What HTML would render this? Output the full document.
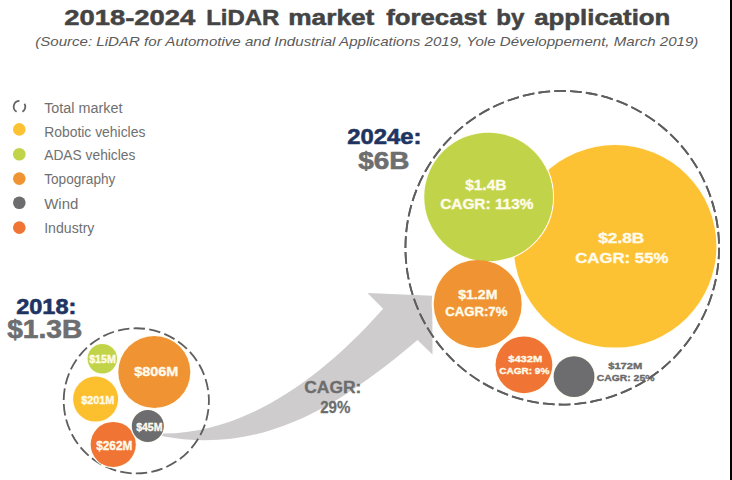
<!DOCTYPE html>
<html><head><meta charset="utf-8">
<style>
html,body{margin:0;padding:0;background:#fff;width:732px;height:480px;overflow:hidden}
svg{display:block}
text{font-family:"Liberation Sans",sans-serif}
</style></head>
<body>
<svg width="732" height="480" viewBox="0 0 732 480">
<rect x="0" y="0" width="732" height="480" fill="#fff"/>
<path d="M16.6,111.72 A5.8,5.8 0 0 1 19.5,100.9 M24.52,103.8 A5.8,5.8 0 0 1 22.4,111.72" fill="none" stroke="#666" stroke-width="1.8"/>
<circle cx="19.3" cy="129.4" r="6.3" fill="#fdc234"/>
<circle cx="19.3" cy="154.3" r="6.3" fill="#c1d449"/>
<circle cx="19.3" cy="178.6" r="6.3" fill="#f09433"/>
<circle cx="19.3" cy="202.7" r="6.3" fill="#6d6c6e"/>
<circle cx="19.3" cy="227.6" r="6.3" fill="#f07434"/>
<path id="arrow" fill="#cecccd" d="M161,433.5 C232.2,434.7 309.2,392.4 383.1,308.75 L367.5,293.1 L432.3,295.8 L432.5,354.4 L417.5,340 C328.5,415.8 255.3,453.3 161,436 Z"/>
<circle cx="136.3" cy="400.85" r="72.6" fill="none" stroke="#5e5e5e" stroke-width="1.8" stroke-dasharray="11.500 4.230" stroke-dashoffset="7.260"/>
<circle cx="154.3" cy="372.05" r="36.60" fill="none" stroke="#fffdf2" stroke-width="1.2"/><circle cx="154.3" cy="372.05" r="36" fill="#f09433"/>
<circle cx="102.3" cy="358.75" r="15.30" fill="none" stroke="#fffdf2" stroke-width="1.2"/><circle cx="102.3" cy="358.75" r="14.7" fill="#c1d449"/>
<circle cx="95.6" cy="399.1" r="23.10" fill="none" stroke="#fffdf2" stroke-width="1.2"/><circle cx="95.6" cy="399.1" r="22.5" fill="#fcbf2e"/>
<circle cx="113.25" cy="444.45" r="23.15" fill="none" stroke="#fffdf2" stroke-width="1.2"/><circle cx="113.25" cy="444.45" r="22.55" fill="#f07434"/>
<circle cx="147.8" cy="425.95" r="16.60" fill="none" stroke="#fffdf2" stroke-width="1.2"/><circle cx="147.8" cy="425.95" r="16" fill="#6d6c6e"/>
<circle cx="562.25" cy="247.75" r="156.8" fill="none" stroke="#5e5e5e" stroke-width="1.8" stroke-dasharray="11.700 4.190" stroke-dashoffset="0.340"/>
<circle cx="477.7" cy="303.9" r="45" fill="none" stroke="#fffdf6" stroke-width="2"/>
<circle cx="615.1" cy="246.3" r="101.90" fill="none" stroke="#fffdf2" stroke-width="1.2"/><circle cx="615.1" cy="246.3" r="101.3" fill="#fdc234"/>
<circle cx="488.55" cy="197" r="64.90" fill="none" stroke="#fffdf2" stroke-width="1.2"/><circle cx="488.55" cy="197" r="64.3" fill="#c1d449"/>
<circle cx="477.7" cy="303.9" r="44" fill="#f09433"/>
<circle cx="523.95" cy="364.8" r="29.00" fill="none" stroke="#fffdf2" stroke-width="1.2"/><circle cx="523.95" cy="364.8" r="28.4" fill="#f07434"/>
<circle cx="574.05" cy="376.65" r="21.00" fill="none" stroke="#fffdf2" stroke-width="1.2"/><circle cx="574.05" cy="376.65" r="20.4" fill="#6d6c6e"/>
<text id="t_a" x="64.20" y="24.8" font-size="22.2" font-weight="bold" font-style="normal" fill="#444" stroke="#444" stroke-width="0.5" stroke-linejoin="round" textLength="131.20" lengthAdjust="spacingAndGlyphs">2018-2024</text>
<text id="t_b" x="206.20" y="24.8" font-size="22.2" font-weight="bold" font-style="normal" fill="#444" stroke="#444" stroke-width="0.5" stroke-linejoin="round" textLength="73.20" lengthAdjust="spacingAndGlyphs">LiDAR</text>
<text id="t_c" x="288.20" y="24.8" font-size="22.2" font-weight="bold" font-style="normal" fill="#444" stroke="#444" stroke-width="0.5" stroke-linejoin="round" textLength="86.20" lengthAdjust="spacingAndGlyphs">market</text>
<text id="t_d" x="386.20" y="24.8" font-size="22.2" font-weight="bold" font-style="normal" fill="#444" stroke="#444" stroke-width="0.5" stroke-linejoin="round" textLength="100.20" lengthAdjust="spacingAndGlyphs">forecast</text>
<text id="t_e" x="496.20" y="24.8" font-size="22.2" font-weight="bold" font-style="normal" fill="#444" stroke="#444" stroke-width="0.5" stroke-linejoin="round" textLength="28.20" lengthAdjust="spacingAndGlyphs">by</text>
<text id="t_f" x="534.20" y="24.8" font-size="22.2" font-weight="bold" font-style="normal" fill="#444" stroke="#444" stroke-width="0.5" stroke-linejoin="round" textLength="136.20" lengthAdjust="spacingAndGlyphs">application</text>
<text id="sub" x="35.20" y="45.9" font-size="12.8" font-weight="normal" font-style="italic" fill="#5a5a5a" textLength="663.20" lengthAdjust="spacingAndGlyphs">(Source: LiDAR for Automotive and Industrial Applications 2019, Yole Développement, March 2019)</text>
<text id="l1" x="44.20" y="112.6" font-size="15.5" font-weight="normal" font-style="normal" fill="#707070" textLength="78.20" lengthAdjust="spacingAndGlyphs">Total market</text>
<text id="l2" x="44.20" y="136.5" font-size="15.5" font-weight="normal" font-style="normal" fill="#707070" textLength="101.20" lengthAdjust="spacingAndGlyphs">Robotic vehicles</text>
<text id="l3" x="44.20" y="160.4" font-size="15.5" font-weight="normal" font-style="normal" fill="#707070" textLength="91.20" lengthAdjust="spacingAndGlyphs">ADAS vehicles</text>
<text id="l4" x="44.20" y="184.2" font-size="15.5" font-weight="normal" font-style="normal" fill="#707070" textLength="71.20" lengthAdjust="spacingAndGlyphs">Topography</text>
<text id="l5" x="44.20" y="208.8" font-size="15.5" font-weight="normal" font-style="normal" fill="#707070" textLength="34.20" lengthAdjust="spacingAndGlyphs">Wind</text>
<text id="l6" x="44.20" y="233" font-size="15.5" font-weight="normal" font-style="normal" fill="#707070" textLength="50.20" lengthAdjust="spacingAndGlyphs">Industry</text>
<text id="s806" x="134.20" y="376.4" font-size="13" font-weight="bold" font-style="normal" fill="#fffbea" stroke="#fffbea" stroke-width="0.35" stroke-linejoin="round" textLength="44.20" lengthAdjust="spacingAndGlyphs">$806M</text>
<text id="s15" x="89.20" y="363.4" font-size="10.2" font-weight="bold" font-style="normal" fill="#fffbea" stroke="#fffbea" stroke-width="0.35" stroke-linejoin="round" textLength="26.70" lengthAdjust="spacingAndGlyphs">$15M</text>
<text id="s201" x="81.20" y="404.1" font-size="10.2" font-weight="bold" font-style="normal" fill="#fffbea" stroke="#fffbea" stroke-width="0.35" stroke-linejoin="round" textLength="33.20" lengthAdjust="spacingAndGlyphs">$201M</text>
<text id="s262" x="96.20" y="449.9" font-size="12" font-weight="bold" font-style="normal" fill="#fffbea" stroke="#fffbea" stroke-width="0.35" stroke-linejoin="round" textLength="36.20" lengthAdjust="spacingAndGlyphs">$262M</text>
<text id="s45" x="136.20" y="430.7" font-size="10.2" font-weight="bold" font-style="normal" fill="#fffbea" stroke="#fffbea" stroke-width="0.35" stroke-linejoin="round" textLength="26.20" lengthAdjust="spacingAndGlyphs">$45M</text>
<text id="y2018" x="16.20" y="313.9" font-size="21.5" font-weight="bold" font-style="normal" fill="#1f3462" stroke="#1f3462" stroke-width="0.6" stroke-linejoin="round" textLength="60.20" lengthAdjust="spacingAndGlyphs">2018:</text>
<text id="v2018" x="7.20" y="337.9" font-size="25" font-weight="bold" font-style="normal" fill="#6d6e70" stroke="#6d6e70" stroke-width="0.6" stroke-linejoin="round" textLength="75.20" lengthAdjust="spacingAndGlyphs">$1.3B</text>
<text id="c1" x="304.20" y="393.2" font-size="16" font-weight="bold" font-style="normal" fill="#6d6d6d" stroke="#6d6d6d" stroke-width="0.3" stroke-linejoin="round" textLength="57.20" lengthAdjust="spacingAndGlyphs">CAGR:</text>
<text id="c2" x="320.20" y="413.3" font-size="16.5" font-weight="bold" font-style="normal" fill="#6d6d6d" stroke="#6d6d6d" stroke-width="0.3" stroke-linejoin="round" textLength="30.20" lengthAdjust="spacingAndGlyphs">29%</text>
<text id="g1" x="465.20" y="190.4" font-size="14.7" font-weight="bold" font-style="normal" fill="#fffbea" stroke="#fffbea" stroke-width="0.35" stroke-linejoin="round" textLength="41.20" lengthAdjust="spacingAndGlyphs">$1.4B</text>
<text id="g2" x="440.20" y="208.6" font-size="14.7" font-weight="bold" font-style="normal" fill="#fffbea" stroke="#fffbea" stroke-width="0.35" stroke-linejoin="round" textLength="93.20" lengthAdjust="spacingAndGlyphs">CAGR: 113%</text>
<text id="yy1" x="598.20" y="242.5" font-size="14.5" font-weight="bold" font-style="normal" fill="#fffbea" stroke="#fffbea" stroke-width="0.35" stroke-linejoin="round" textLength="46.20" lengthAdjust="spacingAndGlyphs">$2.8B</text>
<text id="yy2" x="575.20" y="262.6" font-size="15.3" font-weight="bold" font-style="normal" fill="#fffbea" stroke="#fffbea" stroke-width="0.35" stroke-linejoin="round" textLength="93.20" lengthAdjust="spacingAndGlyphs">CAGR: 55%</text>
<text id="o1" x="458.20" y="299.2" font-size="12.8" font-weight="bold" font-style="normal" fill="#fffbea" stroke="#fffbea" stroke-width="0.35" stroke-linejoin="round" textLength="39.20" lengthAdjust="spacingAndGlyphs">$1.2M</text>
<text id="o2" x="445.20" y="315.6" font-size="12.5" font-weight="bold" font-style="normal" fill="#fffbea" stroke="#fffbea" stroke-width="0.35" stroke-linejoin="round" textLength="62.20" lengthAdjust="spacingAndGlyphs">CAGR:7%</text>
<text id="d1" x="508.20" y="361.8" font-size="9.4" font-weight="bold" font-style="normal" fill="#fffbea" stroke="#fffbea" stroke-width="0.35" stroke-linejoin="round" textLength="34.20" lengthAdjust="spacingAndGlyphs">$432M</text>
<text id="d2" x="499.20" y="373.75" font-size="9.2" font-weight="bold" font-style="normal" fill="#fffbea" stroke="#fffbea" stroke-width="0.35" stroke-linejoin="round" textLength="50.20" lengthAdjust="spacingAndGlyphs">CAGR: 9%</text>
<text id="w1" x="608.20" y="369.1" font-size="9.4" font-weight="bold" font-style="normal" fill="#6a6a6a" stroke="#6a6a6a" stroke-width="0.35" stroke-linejoin="round" textLength="34.20" lengthAdjust="spacingAndGlyphs">$172M</text>
<text id="w2" x="596.70" y="381.1" font-size="9.6" font-weight="bold" font-style="normal" fill="#6a6a6a" stroke="#6a6a6a" stroke-width="0.35" stroke-linejoin="round" textLength="57.70" lengthAdjust="spacingAndGlyphs">CAGR: 25%</text>
<text id="y2024" x="347.20" y="144.4" font-size="22" font-weight="bold" font-style="normal" fill="#1f3462" stroke="#1f3462" stroke-width="0.6" stroke-linejoin="round" textLength="74.20" lengthAdjust="spacingAndGlyphs">2024e:</text>
<text id="v2024" x="358.20" y="168.5" font-size="24.7" font-weight="bold" font-style="normal" fill="#6d6e70" stroke="#6d6e70" stroke-width="0.6" stroke-linejoin="round" textLength="51.20" lengthAdjust="spacingAndGlyphs">$6B</text>
<circle cx="562.25" cy="247.75" r="156.8" fill="none" stroke="#5e5e5e" stroke-width="1.8" stroke-dasharray="11.700 4.190" stroke-dashoffset="0.340"/>
<rect x="730" y="0" width="2" height="480" fill="#000"/>
</svg>
</body></html>
